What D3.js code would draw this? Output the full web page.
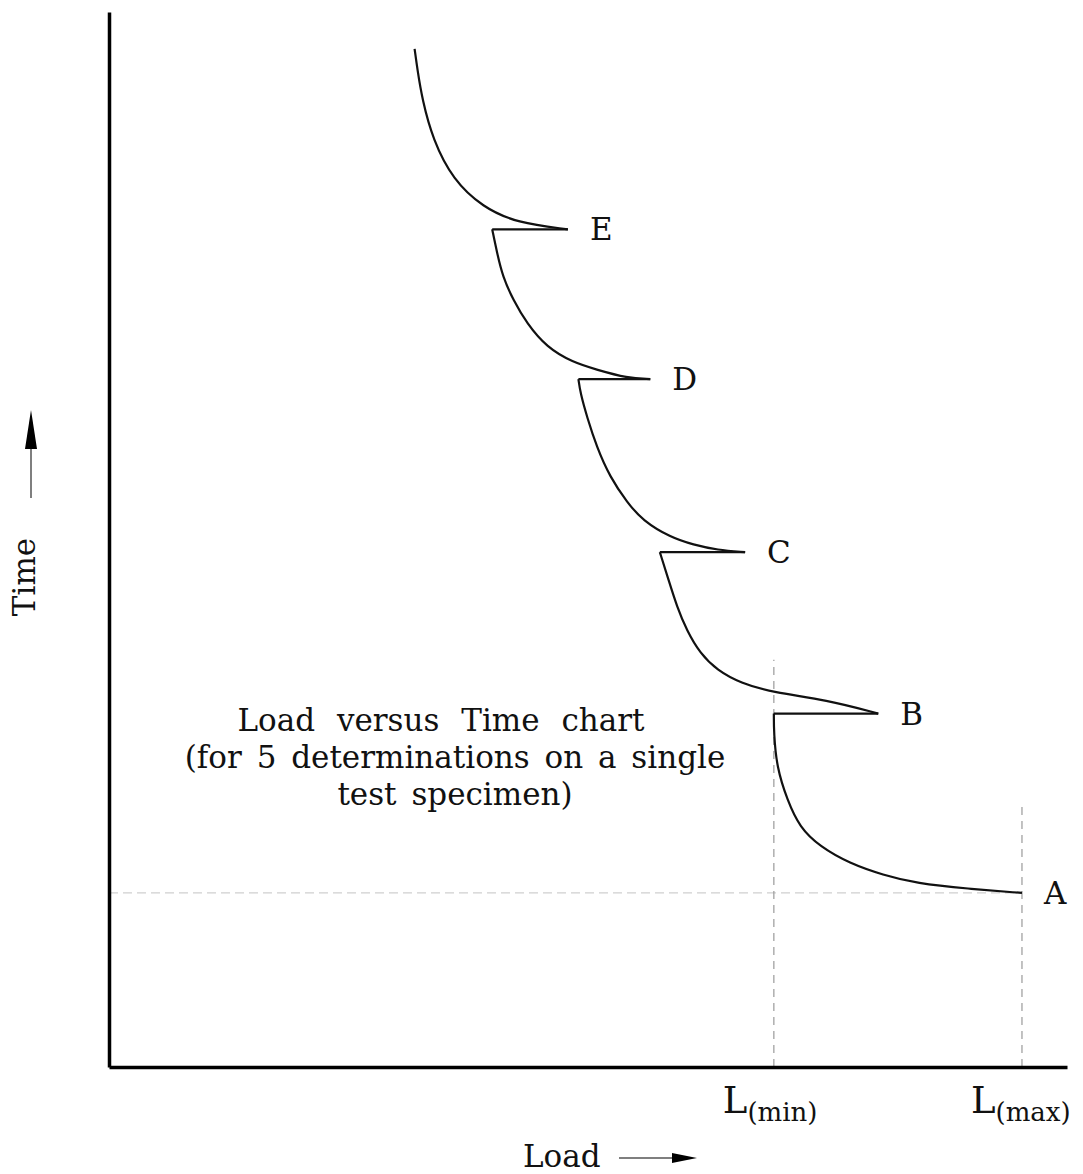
<!DOCTYPE html>
<html>
<head>
<meta charset="utf-8">
<script src="https://cdn.jsdelivr.net/npm/d3@7"></script>
<style>
  body { margin: 0; background: #fff; }
  svg { display: block; }
</style>
</head>
<body>
<svg id="chart"></svg>
<script>
// determinations, bottom to top (load units 0-100, time units 0-100)
const labels = ["A", "B", "C", "D", "E"];
const tipLoad = [95.3, 80.3, 66.4, 56.5, 47.9];
const tipTime = [16.5, 33.5, 48.8, 65.2, 79.4];

// relaxation curves, each running from its tip up to where the next load step starts
const decayA = [[95.3, 16.5], [89.6, 16.9], [84.3, 17.4], [80.8, 18.2], [77.3, 19.3], [74.2, 20.9], [72.1, 22.7], [70.8, 25.3], [69.7, 28.4], [69.4, 31.7], [69.4, 33.5]];
const decayB = [[80.3, 33.5], [74.9, 34.8], [69.3, 35.5], [65.9, 36.4], [63.5, 37.6], [61.7, 39.2], [60.3, 41.4], [59.3, 43.6], [58.4, 46.2], [57.5, 48.8]];
const decayC = [[66.4, 48.8], [63.5, 49.0], [61.0, 49.5], [58.6, 50.2], [55.7, 51.8], [54.1, 53.5], [52.3, 55.9], [50.9, 58.8], [49.9, 61.6], [49.2, 63.9], [49.0, 65.2]];
const decayD = [[56.5, 65.2], [54.1, 65.3], [50.9, 66.1], [48.4, 66.8], [45.7, 68.2], [43.6, 70.5], [42.2, 72.7], [41.1, 74.9], [40.5, 77.2], [40.0, 79.4]];
const decayE = [[47.9, 79.4], [42.6, 80.0], [39.0, 81.5], [35.9, 84.1], [33.8, 87.9], [32.7, 91.7], [32.2, 94.5], [31.9, 96.5]];
const decays = [decayA, decayB, decayC, decayD, decayE];

// reference marks
const loadMarks = ["min", "max"];
const loadMarkValues = [69.4, 95.3];
const loadMarkTop = [38.6, 25.0];
const noteLines = ["Load versus Time chart", "(for 5 determinations on a single", "test specimen)"];

const width = 1083, height = 1174;
const margin = { top: 12, right: 16, bottom: 107, left: 109 };
const font = "'DejaVu Serif', serif";
const ink = "#111";

const svg = d3.select("#chart")
    .attr("width", width)
    .attr("height", height);

const x = d3.scaleLinear().domain([0, 100]).range([margin.left, width - margin.right]);
const y = d3.scaleLinear().domain([0, 100]).range([height - margin.bottom, margin.top]);

// dashed guides
const guides = svg.append("g").attr("fill", "none").attr("stroke-width", 1.2);
guides.append("line")
    .attr("x1", x(0)).attr("x2", x(loadMarkValues[1]))
    .attr("y1", y(tipTime[0])).attr("y2", y(tipTime[0]))
    .attr("stroke", "#d0d0d0")
    .attr("stroke-dasharray", "9,5");
guides.selectAll("line.v")
    .data(loadMarkValues)
    .enter()
    .append("line")
    .attr("class", "v")
    .attr("x1", d => x(d)).attr("x2", d => x(d))
    .attr("y1", y(0))
    .attr("y2", (d, i) => y(loadMarkTop[i]))
    .attr("stroke", "#9a9a9a")
    .attr("stroke-dasharray", "8,6");

// axes (no ticks, just the two thick lines)
svg.append("g")
    .attr("transform", `translate(0,${y(0)})`)
    .call(d3.axisBottom(x).tickValues([]).tickSizeOuter(0))
    .call(g => g.select(".domain").attr("stroke", "#000").attr("stroke-width", 3.5));
svg.append("g")
    .attr("transform", `translate(${x(0)},0)`)
    .call(d3.axisLeft(y).tickValues([]).tickSizeOuter(0))
    .call(g => g.select(".domain").attr("stroke", "#000").attr("stroke-width", 3.5));

// curves
const line = d3.line()
    .x(d => x(d[0]))
    .y(d => y(d[1]))
    .curve(d3.curveBasis);

const marks = svg.append("g").attr("fill", "none").attr("stroke", ink).attr("stroke-width", 2.2);
marks.selectAll("path.decay")
    .data(decays)
    .enter()
    .append("path")
    .attr("class", "decay")
    .attr("d", d => line(d));

// load steps: from end of previous relaxation out to the next tip
marks.selectAll("line.step")
    .data(decays.slice(0, -1))
    .enter()
    .append("line")
    .attr("class", "step")
    .attr("x1", d => x(d[d.length - 1][0]))
    .attr("y1", d => y(d[d.length - 1][1]))
    .attr("x2", (d, i) => x(tipLoad[i + 1]))
    .attr("y2", (d, i) => y(tipTime[i + 1]));

// point labels
svg.selectAll("text.tip")
    .data(labels)
    .enter()
    .append("text")
    .attr("class", "tip")
    .attr("x", (d, i) => x(tipLoad[i]) + 22)
    .attr("y", (d, i) => y(tipTime[i]) + 11)
    .attr("fill", ink)
    .attr("font-family", font)
    .attr("font-size", 31)
    .text(d => d);

// L(min) / L(max)
const lm = svg.selectAll("text.lm")
    .data(loadMarks)
    .enter()
    .append("text")
    .attr("class", "lm")
    .attr("x", (d, i) => x(loadMarkValues[i]) - 51)
    .attr("y", y(0) + 46)
    .attr("fill", ink)
    .attr("font-family", font);
lm.append("tspan").attr("font-size", 37).text("L");
lm.append("tspan").attr("font-size", 26).attr("dy", 8).text(d => `(${d})`);

// note
svg.append("text")
    .attr("fill", ink)
    .attr("font-family", font)
    .attr("font-size", 31)
    .attr("text-anchor", "middle")
    .selectAll("tspan")
    .data(noteLines)
    .enter()
    .append("tspan")
    .attr("x", (d, i) => i === 0 ? 441 : 455)
    .attr("y", (d, i) => 731 + i * 37)
    .style("word-spacing", (d, i) => i === 0 ? "12px" : "5px")
    .text(d => d);

// axis titles with arrows
svg.append("text")
    .attr("transform", "translate(35,577) rotate(-90)")
    .attr("text-anchor", "middle")
    .attr("fill", ink)
    .attr("font-family", font)
    .attr("font-size", 31)
    .text("Time");
svg.append("line")
    .attr("x1", 31).attr("x2", 31).attr("y1", 498).attr("y2", 446)
    .attr("stroke", "#555").attr("stroke-width", 1.5);
svg.append("path")
    .attr("d", "M31,410 L25,449 L37,449 Z")
    .attr("fill", "#000");

svg.append("text")
    .attr("x", 523)
    .attr("y", 1167)
    .attr("fill", ink)
    .attr("font-family", font)
    .attr("font-size", 31)
    .text("Load");
svg.append("line")
    .attr("x1", 619).attr("x2", 674).attr("y1", 1158).attr("y2", 1158)
    .attr("stroke", "#555").attr("stroke-width", 1.5);
svg.append("path")
    .attr("d", "M697,1158 L672,1153 L672,1163 Z")
    .attr("fill", "#000");
</script>
</body>
</html>
